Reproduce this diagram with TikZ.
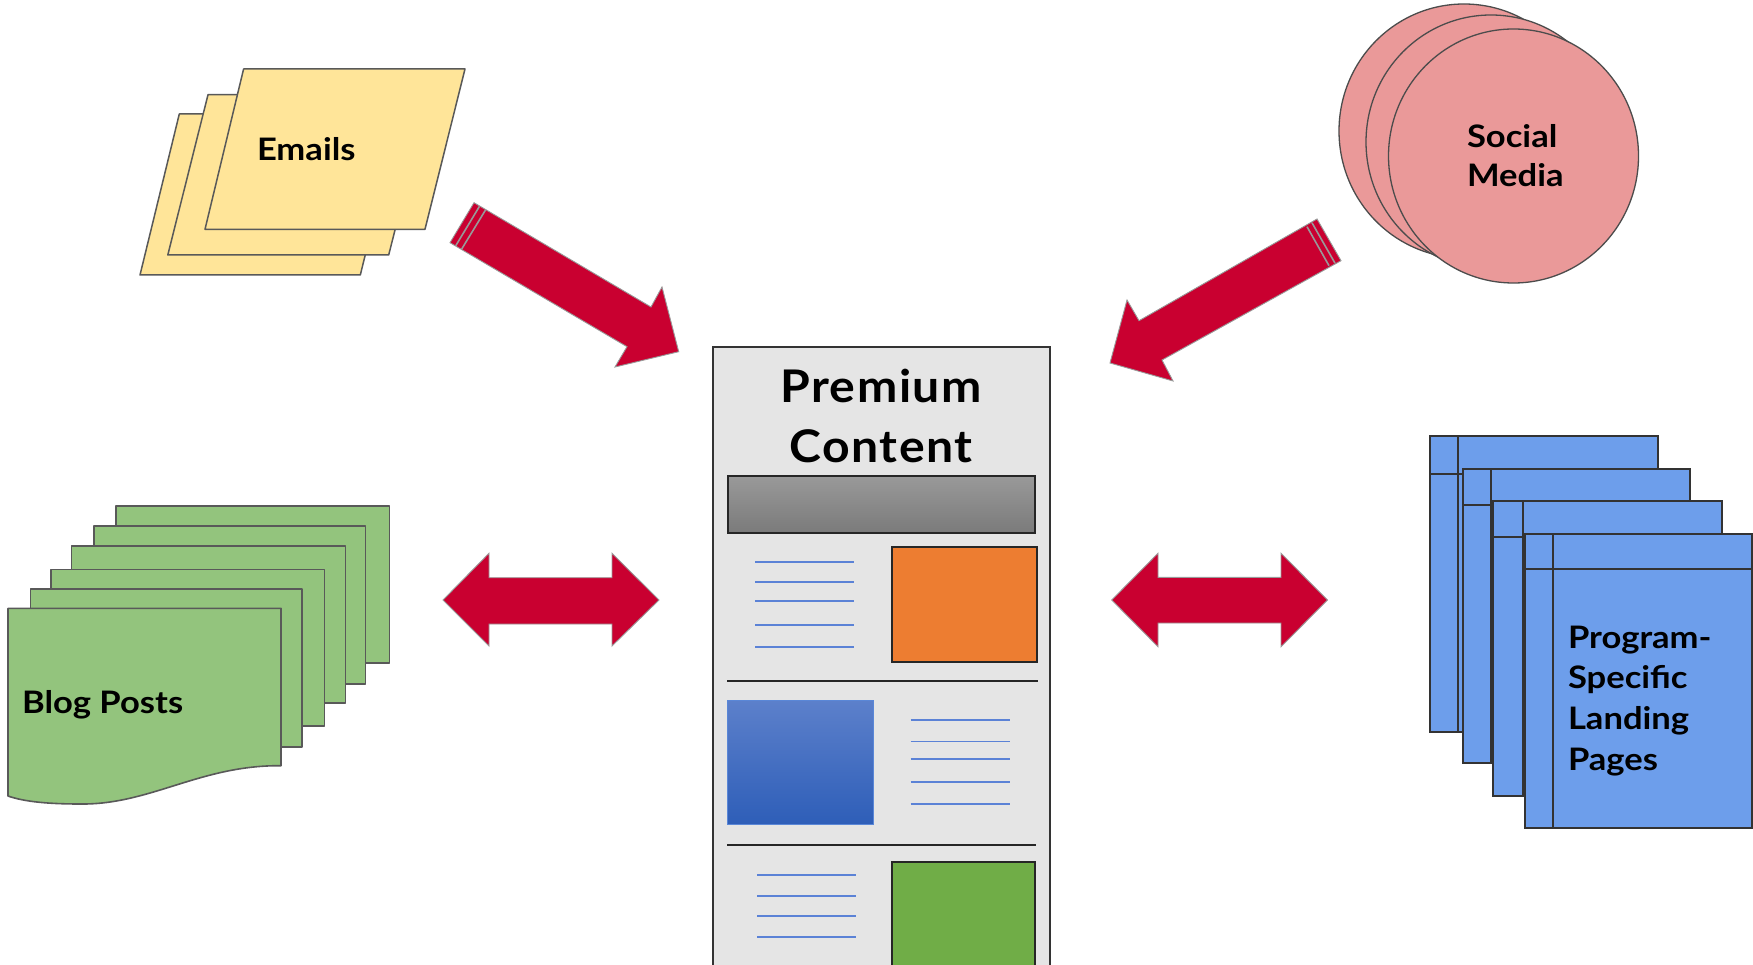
\documentclass[tikz,border=0pt]{standalone}
\usepackage{fontspec}
\setmainfont[FakeStretch=1.115]{Lato}
\newfontfamily\titlefont[LetterSpace=3.5,FakeStretch=1.07]{Lato}
\definecolor{crimson}{HTML}{C90030}
\definecolor{paleyellow}{HTML}{FFE599}
\definecolor{palered}{HTML}{EA9999}
\definecolor{palegreen}{HTML}{93C47D}
\definecolor{paleblue}{HTML}{6D9EEB}
\definecolor{panel}{HTML}{E5E5E5}
\definecolor{rule}{HTML}{5B82D6}
\tikzset{
  x=1pt,y=-1pt,
  yellowpage/.style={fill=paleyellow,draw=black!65,line width=1.5pt,line join=round},
  redcircle/.style={fill=palered,draw=black!70,line width=1.3pt},
  greenpage/.style={fill=palegreen,draw=black!65,line width=1.6pt,line join=round},
  bluepage/.style={fill=paleblue,draw=black!80,line width=2pt},
  bigarrow/.style={fill=crimson,draw=black!40,line width=0.9pt,line join=miter},
  stripe/.style={draw=black!40,line width=1.6pt},
  textrule/.style={draw=rule,line width=1.9pt},
  divider/.style={draw=black!85,line width=1.8pt},
  picbox/.style={draw=black!85,line width=2pt},
  label/.style={inner sep=0pt,outer sep=0pt,anchor=base west,font=\fontsize{31}{31}\selectfont\bfseries,text=black},
  headline/.style={inner sep=0pt,outer sep=0pt,anchor=base,font=\fontsize{45}{45}\selectfont\titlefont\bfseries,text=black}
}
\begin{document}
\begin{tikzpicture}
\useasboundingbox (0,0) rectangle (1753,965);
\fill[white] (0,0) rectangle (1753,965);
% Emails
\draw[yellowpage] (179.3,114) -- (400,114) -- (360.3,275) -- (140,275) -- cycle;
\draw[yellowpage] (208,94.7) -- (429,94.7) -- (388.7,255) -- (167.8,255) -- cycle;
\draw[yellowpage] (243.6,69) -- (465,69) -- (425,229.3) -- (205,229.3) -- cycle;
\node[label] (emails) at (257,161) {Emails};
% Social media
\draw[redcircle] (1464,131) ellipse [x radius=125,y radius=127];
\draw[redcircle] (1491,142) ellipse [x radius=125,y radius=127];
\draw[redcircle] (1513.5,156) ellipse [x radius=125,y radius=127];
\node[label] (social) at (1467,148) {Social};
\node[label] (media) at (1467,187) {Media};
% Slanted arrows
\draw[bigarrow] (474,202.7) -- (651,307) -- (662,287) -- (678.7,351.7) -- (615,367) -- (627,346.7) -- (450,242.7) -- cycle;
\draw[stripe] (479.5,206.3) -- (455.7,245.8);
\draw[stripe] (485.5,210) -- (461.7,249);
\draw[bigarrow] (1317,219) -- (1139,320.7) -- (1127,300) -- (1110,363) -- (1173,381) -- (1162,360) -- (1341,260.7) -- cycle;
\draw[stripe] (1312,222.8) -- (1335,263.2);
\draw[stripe] (1307,226.7) -- (1329,265.7);
% Double arrows
\draw[bigarrow] (443,600) -- (489,553.3) -- (489,577.7) -- (612,577.7) -- (612,553.3) -- (659,600) -- (612,646) -- (612,624) -- (489,624) -- (489,646) -- cycle;
\draw[bigarrow] (1111.7,600) -- (1158,553.3) -- (1158,577.3) -- (1281,577.3) -- (1281,553.3) -- (1327.5,600) -- (1281,646.7) -- (1281,623) -- (1158,623) -- (1158,646.7) -- cycle;
% Blog posts
\foreach \l/\t/\r/\b in {115.8/506/389.4/662.7,94/525.7/365.6/683.7,71.6/545.7/345.6/702.7,51.2/569.3/324.4/726,30.4/588.7/302/746.7}{
  \draw[greenpage] (\l,\t) -- (\r,\t) -- (\r,\b) -- (\l,\b) -- cycle;
}
\draw[greenpage] (8,608.3) -- (281,608.3) -- (281,765.7) .. controls (200,765) and (150,805) .. (80,804) .. controls (50,804) and (25,802) .. (8,796) -- cycle;
\node[label] (blog) at (22,713.5) {Blog Posts};
% Landing pages
\foreach \l/\r/\t/\b/\v/\h in {1430/1657.5/436/731.7/1458/474,1462.5/1690/469/763.3/1490.8/505,1493/1722/501.3/796/1523/536.7,1525/1752/534/828/1553/569.3}{
  \draw[bluepage] (\l,\t) rectangle (\r,\b);
  \draw[bluepage] (\v,\t) -- (\v,\b);
  \draw[bluepage] (\l,\h) -- (\r,\h);
}
\node[label] (program) at (1568,648.3) {Program-};
\node[label] (specific) at (1568,688.8) {Specific};
\node[label] (landing) at (1568,729.5) {Landing};
\node[label] (pages) at (1568,770.5) {Pages};
% Premium content panel
\fill[panel] (713,347) rectangle (1050,970);
\draw[draw=black!80,line width=2pt] (713,970) -- (713,347) -- (1050,347) -- (1050,970);
\node[headline] (premium) at (881,402) {Premium};
\node[headline] (content) at (881,462) {Content};
\shade[top color=black!40,bottom color=black!52] (728,476.1) rectangle (1035,533);
\draw[picbox] (728,476.1) rectangle (1035,533);
\draw[picbox,fill={rgb,255:red,237;green,125;blue,49}] (891.7,547.3) rectangle (1037.3,661.5);
\foreach \y in {562.4,582,601.4,625,646.8}{\draw[textrule] (755,\y) -- (854,\y);}
\draw[divider] (727,681) -- (1037.7,681);
\shade[top color={rgb,255:red,92;green,128;blue,203},bottom color={rgb,255:red,46;green,94;blue,184}] (727.3,700.5) rectangle (873.3,824.5);
\draw[draw={rgb,255:red,90;green,135;blue,215},line width=1.4pt] (727.3,700.5) rectangle (873.3,824.5);
\foreach \y in {719.6,741.5,758.6,782.1,803.6}{\draw[textrule] (910.7,\y) -- (1009.7,\y);}
\draw[divider] (727,845) -- (1035.7,845);
\foreach \y in {874.8,896.3,915.8,937.3}{\draw[textrule] (757,\y) -- (856,\y);}
\draw[picbox,fill={rgb,255:red,112;green,173;blue,71}] (891.7,862) rectangle (1035,970);
\end{tikzpicture}
\end{document}
